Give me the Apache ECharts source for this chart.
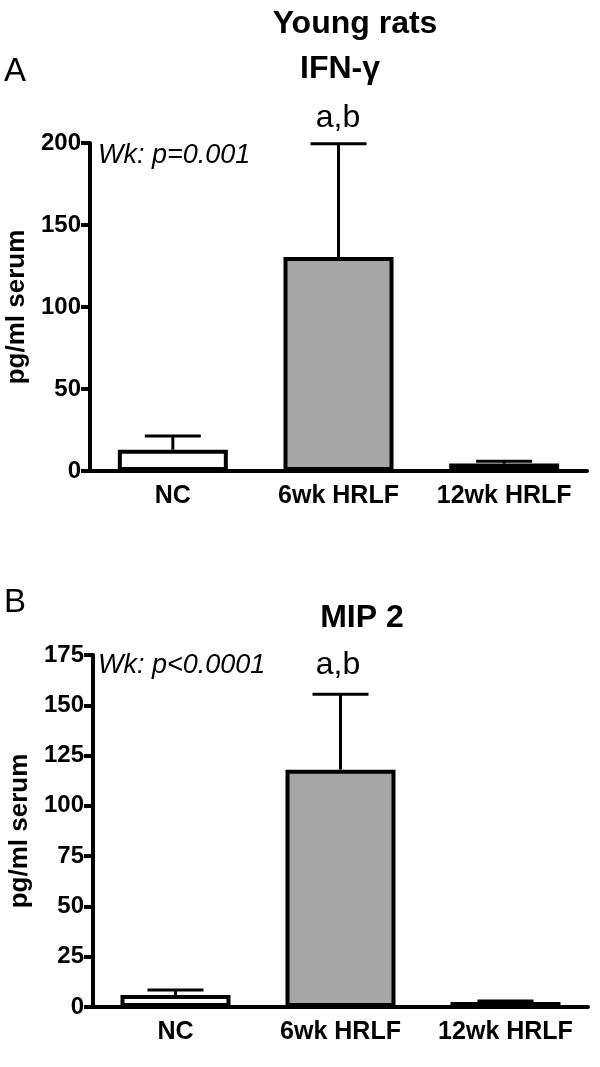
<!DOCTYPE html>
<html>
<head>
<meta charset="utf-8">
<script src="https://cdn.jsdelivr.net/npm/echarts@6/dist/echarts.min.js"></script>
<style>
  html, body { margin: 0; padding: 0; background: #fff; }
  #chart { width: 600px; height: 1067px; }
</style>
</head>
<body>
<div id="chart"></div>
<script>
// data
const categories = ['NC', '6wk HRLF', '12wk HRLF']
const ifnMean = [13, 130.5, 4.5]
const ifnSem = [8.3, 69, 1.5]
const mipMean = [6, 118, 2.5]
const mipSem = [2.5, 37.5, 0.5]
const ifnTicks = { min: 0, max: 200, interval: 50 }
const mipTicks = { min: 0, max: 175, interval: 25 }
const barFills = ['#ffffff', '#a6a6a6', '#ffffff']

const FONT = "'Liberation Sans', Arial, sans-serif"

const chart = echarts.init(document.getElementById('chart'))

const xAxisFor = (gridIndex) => ({
  type: 'category',
  gridIndex,
  data: categories,
  boundaryGap: true,
  axisLine: { lineStyle: { color: '#000', width: 4 } },
  axisTick: { alignWithLabel: true, length: 9, lineStyle: { color: '#000', width: 4 } },
  axisLabel: { interval: 0, color: '#000', fontFamily: FONT, fontWeight: 'bold', fontSize: 25, margin: 13 }
})

const yAxisFor = (gridIndex, ticks) => ({
  type: 'value',
  gridIndex,
  min: ticks.min,
  max: ticks.max,
  interval: ticks.interval,
  name: 'pg/ml serum',
  nameLocation: 'middle',
  nameGap: 59,
  nameTextStyle: { color: '#000', fontFamily: FONT, fontWeight: 'bold', fontSize: 26 },
  splitLine: { show: false },
  axisLine: { show: true, lineStyle: { color: '#000', width: 4 } },
  axisTick: { show: true, length: 9, lineStyle: { color: '#000', width: 4 } },
  axisLabel: { color: '#000', fontFamily: FONT, fontWeight: 'bold', fontSize: 24, margin: 9 }
})

const barSeries = (idx, means) => ({
  type: 'bar',
  xAxisIndex: idx,
  yAxisIndex: idx,
  barWidth: 110,
  z: 3,
  data: means.map((v, i) => ({
    value: v,
    itemStyle: { color: barFills[i], borderColor: '#000', borderWidth: 4 }
  }))
})

const errorSeries = (idx, means, sems) => ({
  type: 'custom',
  xAxisIndex: idx,
  yAxisIndex: idx,
  z: 2,
  data: means.map((v, i) => [i, v, v + sems[i]]),
  renderItem: (params, api) => {
    const base = api.coord([api.value(0), api.value(1)])
    const top = api.coord([api.value(0), api.value(2)])
    const half = 28
    const style = { stroke: '#000', lineWidth: 3 }
    return {
      type: 'group',
      children: [
        { type: 'line', shape: { x1: top[0], y1: base[1], x2: top[0], y2: top[1] }, style },
        { type: 'line', shape: { x1: top[0] - half, y1: top[1], x2: top[0] + half, y2: top[1] }, style }
      ]
    }
  }
})

const txt = (text, x, y, size, opts = {}) => ({
  type: 'text',
  x, y,
  style: {
    text,
    fill: '#000',
    font: `${opts.style || 'normal'} ${opts.weight || 'normal'} ${size}px ${FONT}`,
    align: opts.align || 'center',
    verticalAlign: 'middle'
  }
})

chart.setOption({
  backgroundColor: '#fff',
  animation: false,
  grid: [
    { left: 90, right: 13, top: 143, height: 328, outerBoundsMode: 'none', containLabel: false },
    { left: 93, right: 12, top: 655, height: 352, outerBoundsMode: 'none', containLabel: false }
  ],
  xAxis: [xAxisFor(0), xAxisFor(1)],
  yAxis: [yAxisFor(0, ifnTicks), yAxisFor(1, mipTicks)],
  series: [
    errorSeries(0, ifnMean, ifnSem),
    barSeries(0, ifnMean),
    errorSeries(1, mipMean, mipSem),
    barSeries(1, mipMean)
  ],
  graphic: [
    txt('Young rats', 355, 24, 32, { weight: 'bold' }),
    txt('IFN-γ', 340, 69, 32, { weight: 'bold' }),
    txt('A', 4, 72, 33, { align: 'left' }),
    txt('a,b', 338, 118, 32),
    txt('Wk: p=0.001', 98, 155, 27, { style: 'italic', align: 'left' }),
    txt('B', 4, 603, 33, { align: 'left' }),
    txt('MIP 2', 362, 618, 32, { weight: 'bold' }),
    txt('a,b', 338, 665, 32),
    txt('Wk: p<0.0001', 98, 665, 27, { style: 'italic', align: 'left' })
  ]
})
</script>
</body>
</html>
